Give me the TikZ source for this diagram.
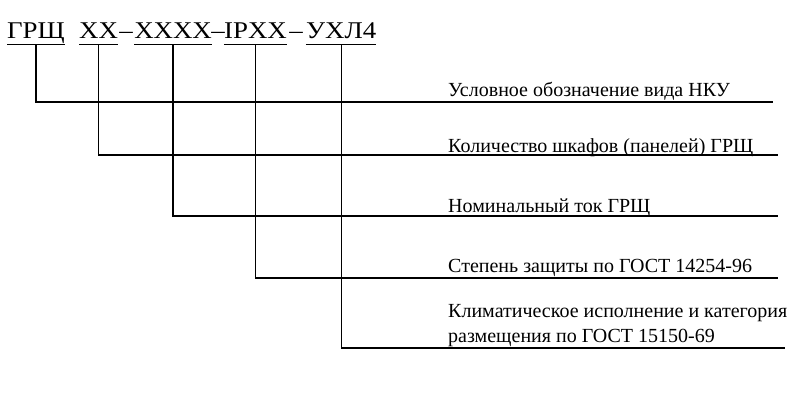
\documentclass[tikz,border=0pt]{standalone}
\usepackage{fontspec}
\setmainfont{Liberation Serif}
\newfontfamily\titlefont[FakeStretch=1.12]{Liberation Serif}
\newfontfamily\labelfont{Liberation Serif}
\begin{document}
\begin{tikzpicture}[x=1pt,y=1pt]

\tikzstyle{titlenode} = [inner sep=0pt,text depth=6pt,font=\titlefont\fontsize{24}{28}\selectfont];
\tikzstyle{dashnode} = [inner sep=0pt,font=\titlefont\fontsize{24}{28}\selectfont];
\tikzstyle{labelnode} = [inner sep=0pt,align=left,font=\labelfont\fontsize{20}{25}\selectfont];
\tikzstyle{leader} = [line width=1.2pt];

\useasboundingbox (0,0) rectangle (800,-400);

\node [titlenode,anchor=base west] (t1) at (7,-38) {ГРЩ};
\node [titlenode,anchor=base west] (t2) at ([xshift=14pt]t1.base east) {XX};
\node [dashnode,anchor=base west] (d1) at ([xshift=1pt]t2.base east) {–};
\node [titlenode,anchor=base west] (t3) at ([xshift=1pt]d1.base east) {XXXX};
\node [dashnode,anchor=base west] (d2) at ([xshift=-1pt]t3.base east) {–};
\node [titlenode,anchor=base west] (t4) at ([xshift=-1pt]d2.base east) {IPXX};
\node [dashnode,anchor=base west] (d3) at ([xshift=2pt]t4.base east) {–};
\node [titlenode,anchor=base west] (t5) at ([xshift=3pt]d3.base east) {УХЛ4};

\foreach \i in {1,...,5}
  \draw [line width=0.8pt] (t\i.south west) -- (t\i.south east);

\coordinate (e1) at (773,-102);
\coordinate (e2) at (778,-155);
\coordinate (e3) at (778,-216);
\coordinate (e4) at (778,-278);
\coordinate (e5) at (785,-348);

\node [labelnode,anchor=base west] (l1) at (448,-96) {Условное обозначение вида НКУ};
\node [labelnode,anchor=base west] (l2) at (448,-152) {Количество шкафов (панелей) ГРЩ};
\node [labelnode,anchor=base west] (l3) at (448,-212) {Номинальный ток ГРЩ};
\node [labelnode,anchor=base west] (l4) at (448,-272) {Степень защиты по ГОСТ 14254-96};
\node [labelnode,anchor=base west] (l5) at (448,-342) {Климатическое исполнение и категория\\размещения по ГОСТ 15150-69};

\foreach \i in {1,...,5}
  \draw [leader] (t\i.south) |- (e\i);

\end{tikzpicture}
\end{document}
